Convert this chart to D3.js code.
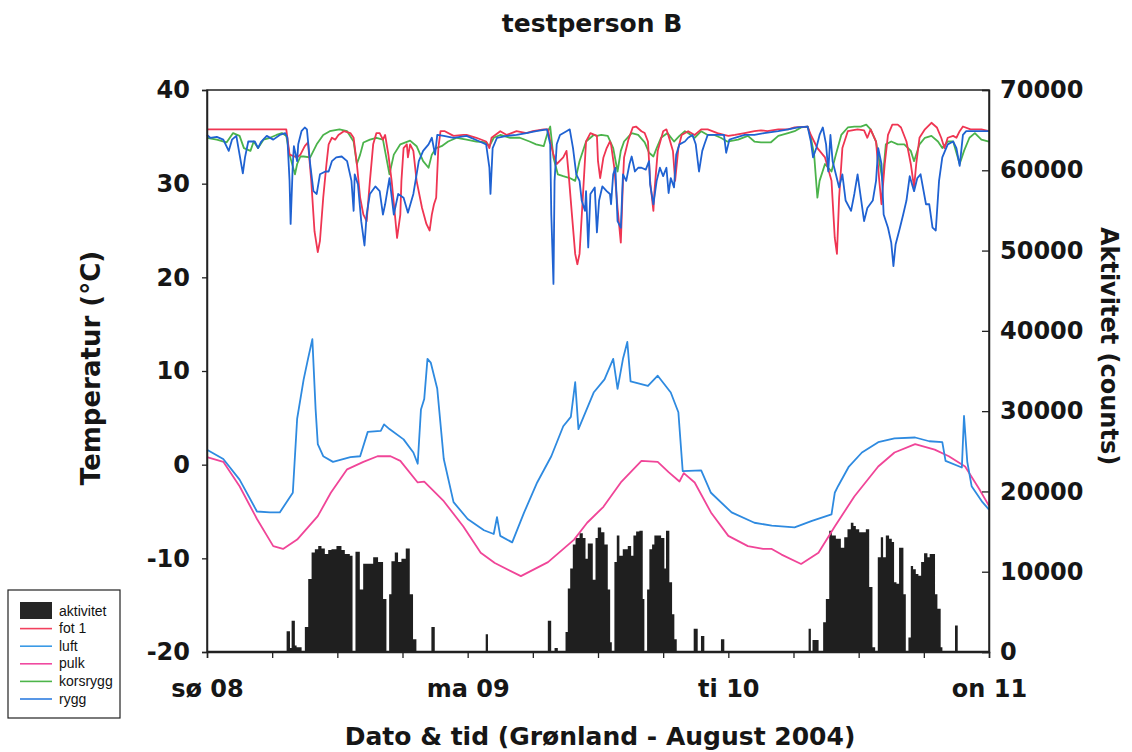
<!DOCTYPE html>
<html><head><meta charset="utf-8">
<script src="https://cdn.jsdelivr.net/npm/d3@7"></script>
<style>body{margin:0;background:#fff}svg{display:block}</style>
</head><body>
<svg id="c" width="1132" height="752"></svg>
<script>
// ---- DATA (hours since sø 08 00:00, °C / counts) ----
const xTickHours = [0,6,12,18,24,30,36,42,48,54,60,66,72];
const xTickLabels = {0:"sø 08",24:"ma 09",48:"ti 10",72:"on 11"};
const tempTicks = [-20,-10,0,10,20,30,40];
const countTicks = [0,10000,20000,30000,40000,50000,60000,70000];

const fot1 = [[0,35.8],[7.3,35.8],[7.6,33.1],[8.3,32.8],[8.6,33.1],[9.0,34.0],[9.3,34.4],[9.6,30.3],[9.9,24.9],[10.2,22.7],[10.4,23.9],[10.7,28.5],[11.0,32.1],[11.2,34.2],[11.5,34.9],[11.8,34.7],[12.1,35.2],[12.6,35.6],[13.2,35.4],[13.5,34.9],[13.8,32.1],[14.1,28.5],[14.4,26.7],[14.7,26.0],[15.0,30.3],[15.3,34.2],[15.6,35.4],[15.9,35.4],[16.2,34.7],[16.4,35.2],[16.7,33.1],[17.0,30.3],[17.3,26.7],[17.5,24.2],[17.8,26.7],[17.9,30.3],[18.1,33.8],[18.4,34.2],[18.5,32.8],[18.7,34.2],[19.0,33.5],[19.3,30.3],[19.8,27.4],[20.2,25.7],[20.5,25.0],[20.7,26.7],[20.9,27.8],[21.1,28.5],[21.3,33.8],[21.5,35.6],[21.9,35.6],[22.7,35.1],[23.6,35.2],[23.9,35.2],[24.8,34.9],[25.7,34.5],[26.0,33.8],[26.2,34.9],[27.0,35.6],[27.6,35.2],[28.5,35.6],[29.4,35.4],[30.0,35.6],[31.0,35.8],[31.4,35.8],[31.6,34.5],[31.9,33.1],[32.2,32.1],[32.8,32.8],[33.1,33.5],[33.3,31.0],[33.6,26.7],[33.9,22.5],[34.1,21.4],[34.3,22.5],[34.6,28.5],[34.9,34.5],[35.3,35.4],[35.9,35.1],[36.0,32.4],[36.2,30.6],[36.5,32.8],[36.8,33.8],[37.1,34.5],[37.2,34.2],[37.5,31.7],[37.8,27.4],[38.1,23.7],[38.3,30.3],[38.4,32.8],[38.8,34.7],[39.2,36.0],[39.5,36.1],[40.0,35.6],[40.3,35.4],[40.6,34.5],[40.8,30.3],[41.1,27.1],[41.2,29.2],[41.5,33.5],[42.0,35.6],[42.3,35.8],[42.6,34.7],[42.9,33.5],[43.1,30.3],[43.4,33.8],[43.7,35.2],[44.3,35.6],[44.9,35.2],[45.5,35.8],[46.1,35.8],[47.0,35.4],[47.6,35.2],[48.0,35.1],[48.6,35.2],[49.5,35.4],[50.4,35.6],[51.0,35.7],[51.6,35.6],[52.6,35.8],[53.5,35.8],[54.1,36.0],[55.3,36.1],[55.6,35.2],[55.9,34.5],[56.2,33.8],[56.9,32.8],[57.5,30.3],[57.8,24.2],[58.0,22.5],[58.2,28.5],[58.5,33.8],[59.0,35.6],[59.9,35.8],[60.5,35.7],[60.8,34.9],[61.1,35.8],[61.6,34.5],[61.9,30.3],[62.1,27.8],[62.4,32.1],[62.7,35.2],[63.1,36.3],[63.6,36.3],[63.9,36.0],[64.4,34.5],[64.8,32.1],[65.1,29.6],[65.3,32.1],[65.6,34.9],[66.1,35.8],[66.7,36.5],[67.2,36.0],[67.6,34.9],[67.9,33.8],[68.2,34.9],[68.7,35.1],[69.0,34.9],[69.3,35.6],[69.6,36.1],[70.3,35.8],[71.3,35.8],[72,35.6]];

const korsrygg = [[0,34.9],[0.9,34.7],[1.8,34.4],[2.4,35.4],[3.0,35.1],[3.4,33.8],[4.0,33.5],[4.3,34.5],[4.7,33.8],[5.2,34.7],[5.8,34.9],[6.4,35.2],[6.9,35.4],[7.3,35.1],[7.6,33.1],[8.1,31.0],[8.3,32.1],[8.6,32.9],[8.9,32.9],[9.5,32.8],[10.1,34.2],[10.7,35.2],[11.3,35.6],[12.2,35.8],[12.9,35.6],[13.5,34.5],[13.8,32.1],[14.1,33.1],[14.4,34.4],[15.0,34.7],[15.6,34.9],[16.2,34.7],[16.8,31.0],[17.2,33.1],[17.8,34.2],[18.7,34.6],[19.3,34.0],[19.9,32.4],[20.4,31.7],[20.7,33.1],[21.1,33.8],[21.6,34.0],[22.2,34.5],[23.0,34.9],[23.9,34.7],[24.8,34.5],[25.7,34.4],[26.0,34.0],[26.4,34.9],[27.0,35.2],[27.9,34.9],[28.8,34.9],[29.7,34.5],[30.3,34.2],[31.0,34.0],[31.4,35.6],[31.6,36.1],[31.9,32.8],[32.3,31.0],[32.8,30.8],[33.4,30.6],[33.9,30.3],[34.3,32.4],[34.9,34.5],[35.6,35.2],[35.9,35.1],[36.3,35.2],[36.9,35.1],[37.4,33.8],[37.8,31.3],[38.1,33.5],[38.4,34.5],[39.1,35.4],[39.7,35.2],[40.3,34.4],[40.7,33.3],[41.1,32.9],[41.4,33.8],[41.8,34.9],[42.4,35.4],[43.0,34.5],[43.5,35.1],[44.0,35.6],[44.3,35.4],[44.9,34.9],[45.5,35.6],[46.1,35.2],[46.7,35.2],[47.3,34.9],[47.9,34.5],[48.9,34.7],[49.8,35.1],[50.4,34.5],[51.0,34.4],[51.9,34.4],[52.6,35.1],[53.5,35.4],[54.1,35.6],[54.7,36.0],[55.3,36.1],[55.6,34.9],[55.9,33.1],[56.2,28.5],[56.4,30.3],[56.9,32.1],[57.5,31.3],[57.9,33.1],[58.4,35.2],[59.0,36.0],[59.6,36.1],[60.2,36.1],[60.7,36.3],[61.1,35.8],[61.6,34.5],[61.9,32.4],[62.2,30.3],[62.5,34.2],[63.0,34.5],[63.6,34.2],[64.2,34.2],[64.8,33.5],[65.1,32.4],[65.6,34.2],[66.1,34.9],[66.7,35.1],[67.3,34.5],[67.7,33.8],[68.2,34.5],[68.7,34.5],[69.3,32.1],[69.7,33.5],[70.2,34.9],[70.7,35.4],[71.3,34.7],[72,34.5]];

const rygg = [[0,35.2],[0.3,34.9],[0.9,35.0],[1.5,34.7],[2.0,33.5],[2.3,34.7],[2.7,35.1],[3.0,33.1],[3.3,31.1],[3.5,32.8],[3.8,34.5],[4.4,34.5],[4.7,33.8],[5.0,34.5],[5.5,35.1],[6.1,34.7],[6.7,35.2],[7.2,35.4],[7.4,34.9],[7.6,30.3],[7.7,25.7],[7.9,32.1],[8.0,34.0],[8.3,32.4],[8.4,34.2],[8.7,35.6],[9.0,36.0],[9.2,35.8],[9.5,32.1],[9.8,29.2],[10.1,28.9],[10.4,31.0],[10.9,31.3],[11.2,31.3],[11.5,32.4],[11.9,32.8],[12.4,32.9],[12.9,32.4],[13.3,30.3],[13.5,27.1],[13.6,31.0],[13.9,29.9],[14.2,26.0],[14.5,23.4],[14.7,26.7],[15.0,28.9],[15.5,29.7],[15.9,29.2],[16.2,26.7],[16.4,27.8],[16.8,30.6],[17.2,26.7],[17.6,28.9],[18.1,28.5],[18.5,26.9],[19.0,28.9],[19.5,32.4],[19.9,33.5],[20.4,34.2],[20.7,34.9],[21.0,33.1],[21.2,35.2],[21.8,35.1],[22.7,34.9],[23.9,35.1],[25.1,34.5],[25.7,34.2],[26.0,31.7],[26.1,28.9],[26.3,33.8],[26.7,34.9],[27.6,35.1],[28.5,35.2],[29.4,35.4],[30.3,35.6],[31.3,35.8],[31.6,34.2],[31.7,26.7],[31.9,19.3],[32.0,30.3],[32.2,34.2],[32.5,35.2],[33.1,35.6],[33.4,35.8],[33.7,33.8],[34.0,31.0],[34.3,30.3],[34.5,28.2],[34.8,27.1],[34.9,29.2],[35.1,23.2],[35.3,28.9],[35.7,29.6],[35.9,24.8],[36.1,28.2],[36.4,29.7],[36.8,29.2],[37.1,28.9],[37.2,27.8],[37.4,31.0],[37.6,31.7],[37.8,26.0],[38.1,25.3],[38.3,31.0],[38.6,30.3],[38.9,32.1],[39.1,32.9],[39.4,31.3],[39.7,31.7],[40.0,31.7],[40.4,31.5],[40.7,32.4],[40.8,29.9],[41.1,27.8],[41.4,30.3],[41.7,31.7],[42.0,30.8],[42.3,31.7],[42.5,29.0],[42.7,30.6],[43.0,29.6],[43.2,33.1],[43.5,34.2],[44.0,34.5],[44.3,34.9],[44.7,35.2],[45.0,34.2],[45.3,31.3],[45.6,33.5],[45.8,34.2],[46.1,35.2],[47.3,35.2],[47.6,35.2],[47.8,33.3],[48.1,34.7],[48.6,34.9],[49.5,35.2],[50.4,35.2],[51.3,35.4],[52.6,35.6],[53.5,35.8],[54.4,36.0],[55.3,36.1],[55.6,34.5],[55.8,32.8],[56.1,33.8],[56.4,35.2],[56.7,36.0],[57.0,34.2],[57.2,31.3],[57.4,35.2],[57.6,32.4],[57.9,31.0],[58.2,29.6],[58.5,31.0],[58.8,28.2],[59.3,27.1],[59.6,28.9],[59.9,31.0],[60.2,28.5],[60.5,26.0],[60.8,27.4],[61.3,28.2],[61.6,30.3],[61.8,33.8],[62.1,32.1],[62.3,26.7],[62.7,25.3],[63.0,23.7],[63.2,21.2],[63.4,23.5],[63.8,25.3],[64.1,26.7],[64.4,28.2],[64.7,30.8],[65.1,29.2],[65.4,30.6],[65.7,31.0],[66.2,27.8],[66.5,27.8],[66.8,25.3],[67.1,25.0],[67.4,30.3],[67.7,32.8],[68.2,34.2],[68.7,34.5],[69.0,33.8],[69.3,31.9],[69.6,35.2],[69.9,35.6],[70.7,35.6],[72,35.6]];

const luft = [[0,1.6],[1.5,0.6],[3,-1.6],[4.6,-5.0],[5.8,-5.1],[6.7,-5.1],[7.9,-3.0],[8.3,4.9],[8.9,9.1],[9.3,11.3],[9.7,13.4],[10.0,5.9],[10.2,2.2],[10.7,0.9],[11.6,0.3],[13.2,0.8],[14.1,0.9],[14.8,3.5],[16.0,3.6],[16.3,4.3],[16.8,3.8],[18.1,2.7],[19.0,1.3],[19.4,0.1],[19.7,5.9],[20.0,7.0],[20.3,11.3],[20.6,10.9],[21.2,8.1],[21.8,0.6],[22.7,-4.0],[24.0,-5.8],[25.5,-7.0],[26.4,-7.4],[26.7,-5.6],[27.0,-7.6],[28.1,-8.3],[29.2,-5.1],[30.4,-1.9],[31.7,0.9],[32.8,4.1],[33.5,5.1],[33.9,8.8],[34.2,3.8],[35.6,7.7],[36.6,9.1],[37.4,11.3],[37.8,8.1],[38.3,11.3],[38.7,13.1],[39.0,8.9],[40.6,8.4],[41.5,9.5],[42.7,7.7],[43.4,5.6],[43.8,-0.7],[45.5,-0.6],[46.4,-3.0],[48.3,-5.1],[50.4,-6.2],[52.0,-6.5],[54.1,-6.7],[55.7,-6.0],[57.5,-5.3],[57.8,-3.0],[58.1,-2.3],[59.1,-0.2],[60.3,1.3],[61.8,2.4],[63.3,2.8],[65.2,2.9],[66.5,2.5],[67.7,2.4],[68.0,0.4],[69.5,-0.3],[69.7,5.2],[70.0,0.3],[70.4,-2.3],[71.4,-4.0],[72,-4.8]];

const pulk = [[0,0.8],[1.5,0.3],[3,-2.3],[4.6,-5.8],[6.1,-8.7],[7.0,-9.0],[8.3,-8.0],[10.2,-5.5],[11.4,-3.0],[12.9,-0.5],[14.4,0.3],[15.7,0.9],[16.9,0.9],[17.8,0.4],[19.4,-1.9],[20,-1.8],[21.8,-3.9],[23.6,-6.6],[25.2,-9.4],[26.5,-10.5],[28.9,-11.9],[31.4,-10.4],[33.8,-8.0],[35.0,-6.2],[36.5,-4.5],[38.1,-1.9],[40,0.4],[41.5,0.3],[42.5,-0.8],[43.5,-1.8],[43.9,-0.9],[44.9,-1.9],[46.4,-5.1],[48,-7.6],[49.8,-8.7],[51.2,-9.0],[52.0,-9.0],[52.9,-9.6],[54.7,-10.6],[56.3,-9.4],[57.8,-6.6],[59.6,-3.4],[61.8,-0.2],[63.3,1.3],[65.2,2.2],[67,1.6],[68.3,0.9],[69.8,-0.2],[71.1,-2.6],[72,-4.4]];

// activity: step segments [start hour, counts]
const aktivitet = [[0,150],[7.33,2600],[7.64,500],[7.79,3900],[8.09,800],[8.25,600],[8.71,150],[9.01,3100],[9.32,9100],[9.63,12400],[9.93,12800],[10.24,13200],[10.54,12900],[10.85,12200],[11.16,12700],[11.46,12800],[11.92,13200],[12.38,12700],[12.69,12200],[13.15,12000],[13.40,150],[13.67,12500],[14.07,7800],[14.38,11000],[15.30,11800],[15.75,11200],[16.21,6600],[16.52,150],[16.77,7200],[16.98,11300],[17.29,12400],[17.59,11200],[17.90,11600],[18.30,12900],[18.67,7200],[18.97,1600],[19.28,150],[20.66,3100],[20.97,150],[25.66,2200],[25.87,150],[31.38,3900],[31.69,150],[32.0,500],[32.3,150],[33.01,2500],[33.22,7900],[33.44,10400],[33.68,13400],[33.93,14200],[34.30,14800],[34.60,14200],[34.85,11600],[35.06,13500],[35.52,9000],[35.77,14200],[35.98,15500],[36.29,14900],[36.59,13400],[36.90,7800],[37.12,1200],[37.27,150],[37.51,11200],[37.73,14500],[37.97,12000],[38.28,12800],[38.74,13200],[39.05,12000],[39.26,14500],[39.51,15000],[39.81,15100],[40.12,6600],[40.27,150],[40.52,7800],[40.73,12800],[40.98,13400],[41.19,14500],[41.81,14200],[42.11,10400],[42.26,15100],[42.57,8700],[42.82,4700],[43.03,1600],[43.25,150],[44.81,2900],[45.18,150],[45.48,2000],[45.79,150],[47.32,1600],[47.63,150],[55.39,2900],[55.60,150],[55.75,1500],[56.31,150],[56.73,3700],[56.98,6600],[57.29,15100],[57.53,14500],[57.90,14100],[58.36,13000],[58.67,14300],[58.97,15300],[59.28,16100],[59.52,15700],[59.74,15300],[60.05,14900],[60.66,15300],[60.97,8100],[61.27,600],[61.52,150],[61.76,11800],[62.04,14300],[62.25,11800],[62.50,14500],[62.80,14100],[63.05,13700],[63.26,8700],[63.48,8500],[63.72,13000],[64.12,7200],[64.34,150],[64.58,1800],[64.80,10700],[65.01,10300],[65.26,9700],[65.50,9500],[65.75,11200],[66.02,12300],[66.33,11800],[66.54,12200],[66.79,12200],[67.03,7200],[67.25,5400],[67.55,600],[67.71,150],[68.87,3300],[69.12,150],[72,150]];

const legendItems = [
  {name:"aktivitet", type:"rect", color:"#262626"},
  {name:"fot 1", type:"line", color:"#f2405e"},
  {name:"luft", type:"line", color:"#3a9ae6"},
  {name:"pulk", type:"line", color:"#f04aa0"},
  {name:"korsrygg", type:"line", color:"#4db54a"},
  {name:"rygg", type:"line", color:"#2f7de0"}
];
const seriesColors = {fot1:"#ef3552", luft:"#2e8ae0", pulk:"#f04598", korsrygg:"#4bb34b", rygg:"#1f62d2"};

// ---- DRAW ----
const svg = d3.select("#c");
const L = 207, R = 989, T = 90, B = 652;
const x = d3.scaleLinear().domain([0,72]).range([L,R]);
const yT = d3.scaleLinear().domain([-20,40]).range([B,T]);
const yC = d3.scaleLinear().domain([0,70000]).range([B,T]);
const BOLD = "'DejaVu Sans', sans-serif";

// activity
const area = d3.area().curve(d3.curveStepAfter)
  .x(d=>x(d[0])).y0(yC(0)).y1(d=>yC(d[1]));
svg.append("path").datum(aktivitet).attr("d",area).attr("fill","#1f1f1f");

const line = d3.line().x(d=>x(d[0])).y(d=>yT(d[1]));
function drawLine(data,color){
  svg.append("path").datum(data).attr("d",line).attr("fill","none")
    .attr("stroke",color).attr("stroke-width",1.8).attr("stroke-linejoin","round");
}
drawLine(pulk, seriesColors.pulk);
drawLine(luft, seriesColors.luft);
drawLine(korsrygg, seriesColors.korsrygg);
drawLine(fot1, seriesColors.fot1);
drawLine(rygg, seriesColors.rygg);

// frame
svg.append("rect").attr("x",L).attr("y",T).attr("width",R-L).attr("height",B-T)
  .attr("fill","none").attr("stroke","#222").attr("stroke-width",1.5);

// axes
const gL = svg.append("g").attr("transform",`translate(${L},0)`)
  .call(d3.axisLeft(yT).tickValues(tempTicks).tickSize(5).tickPadding(12).tickFormat(d=>String(d)));
const gR = svg.append("g").attr("transform",`translate(${R},0)`)
  .call(d3.axisRight(yC).tickValues(countTicks).tickSize(-7).tickPadding(11).tickFormat(d=>String(d)));
const gB = svg.append("g").attr("transform",`translate(0,${B})`)
  .call(d3.axisBottom(x).tickValues(xTickHours).tickSize(6).tickPadding(22)
    .tickFormat(d=>xTickLabels[d]||""));
[gL,gR,gB].forEach(g=>{
  g.select(".domain").attr("stroke","#222").attr("stroke-width",1.5);
  g.selectAll(".tick line").attr("stroke","#222").attr("stroke-width",1.3);
  g.selectAll("text").attr("font-family",BOLD).attr("font-weight","bold").attr("font-size",24).attr("fill","#161616");
});

// titles
svg.append("text").attr("x",592).attr("y",32).attr("text-anchor","middle")
  .attr("font-family",BOLD).attr("font-weight","bold").attr("font-size",25).attr("fill","#161616").text("testperson B");
svg.append("text").attr("x",600).attr("y",745).attr("text-anchor","middle")
  .attr("font-family",BOLD).attr("font-weight","bold").attr("font-size",25).attr("fill","#161616")
  .text("Dato & tid (Grønland - August 2004)");
svg.append("text").attr("transform","translate(100,368) rotate(-90)").attr("text-anchor","middle")
  .attr("font-family",BOLD).attr("font-weight","bold").attr("font-size",26).attr("fill","#161616").text("Temperatur (°C)");
svg.append("text").attr("transform","translate(1101,346) rotate(90)").attr("text-anchor","middle")
  .attr("font-family",BOLD).attr("font-weight","bold").attr("font-size",24).attr("fill","#161616").text("Aktivitet (counts)");

// legend
const lg = svg.append("g").attr("transform","translate(8,590)");
lg.append("rect").attr("width",112).attr("height",128).attr("fill","#fff").attr("stroke","#222").attr("stroke-width",1.2);
legendItems.forEach((d,i)=>{
  const cy = 21 + i*17.6;
  if(d.type==="rect") lg.append("rect").attr("x",12).attr("y",cy-9).attr("width",32).attr("height",17).attr("fill",d.color);
  else lg.append("line").attr("x1",12).attr("x2",44).attr("y1",cy).attr("y2",cy).attr("stroke",d.color).attr("stroke-width",1.6);
  lg.append("text").attr("x",51).attr("y",cy+4.5).attr("font-family","'Liberation Sans', Arial, sans-serif").attr("font-size",14).attr("fill","#111").text(d.name);
});
</script>
</body></html>
